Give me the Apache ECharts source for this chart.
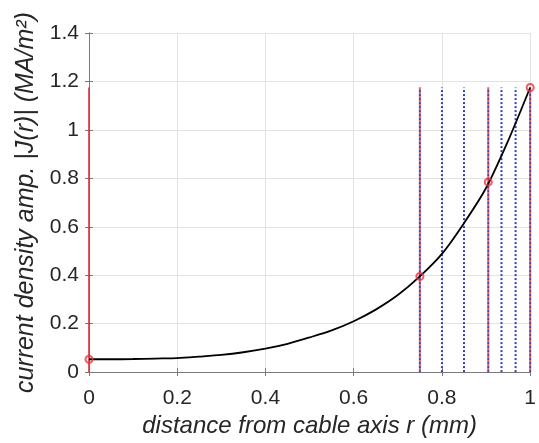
<!DOCTYPE html>
<html>
<head>
<meta charset="utf-8">
<script src="https://cdn.jsdelivr.net/npm/echarts@6/dist/echarts.min.js"></script>
<style>
  html, body { margin: 0; padding: 0; background: #fff; }
  #chart { width: 539px; height: 443px; }
</style>
</head>
<body>
<div id="chart"></div>
<script>
// current density profile
const rValues = [0, 0.05, 0.1, 0.15, 0.2, 0.25, 0.3, 0.35, 0.4, 0.45, 0.5, 0.55, 0.6, 0.65, 0.7, 0.75, 0.8, 0.85, 0.9, 0.95, 1.0]
const jValues = [0.053, 0.053, 0.054, 0.056, 0.058, 0.064, 0.071, 0.082, 0.097, 0.117, 0.143, 0.172, 0.21, 0.258, 0.318, 0.395, 0.488, 0.615, 0.76, 0.955, 1.175]

// red circles
const markR = [0, 0.75, 0.905, 1.0]
const markJ = [0.053, 0.395, 0.785, 1.175]

// vertical mesh lines (blue dotted) and layer boundaries (red dotted)
const meshR = [0.75, 0.8, 0.85, 0.905, 0.935, 0.967, 1.0]
const layerR = [0.75, 0.905, 1.0]
const axisLineR = [0]
const lineTop = 1.175

const xTicks = [0, 0.2, 0.4, 0.6, 0.8, 1]
const yTicks = [0, 0.2, 0.4, 0.6, 0.8, 1, 1.2, 1.4]

const font = 'Liberation Sans'
const textColor = '#262626'
const frameColor = '#7a7a7a'

const vline = (r, color, type, offset, width) => ({
    type: 'line',
    data: [[r, 0], [r, lineTop]],
    symbol: 'none',
    silent: true,
    lineStyle: { color: color, width: width, type: type, dashOffset: offset || 0 },
    z: 2
})

const series = []
meshR.forEach(r => series.push(vline(r, '#2e3fc0', [2, 2], 0, 2)))
layerR.forEach(r => series.push(vline(r, '#f0505a', [2, 2], 2, 2)))
axisLineR.forEach(r => series.push(vline(r, '#dc3038', 'solid', 0, 1.6)))

series.push({
    type: 'line',
    data: rValues.map((r, i) => [r, jValues[i]]),
    smooth: 0.3,
    symbol: 'none',
    lineStyle: { color: '#000', width: 1.8 },
    z: 3
})

series.push({
    type: 'scatter',
    data: markR.map((r, i) => [r, markJ[i]]),
    symbol: 'circle',
    symbolSize: 7,
    itemStyle: { color: 'rgba(0,0,0,0)', borderColor: '#f0303a', borderWidth: 2 },
    z: 4
})

const chart = echarts.init(document.getElementById('chart'))
chart.setOption({
    animation: false,
    backgroundColor: '#fff',
    grid: { left: 89, right: 5, top: 33, bottom: 64 },
    xAxis: [{
        type: 'value',
        min: xTicks[0],
        max: xTicks[xTicks.length - 1],
        interval: 0.2,
        name: 'distance from cable axis r (mm)',
        nameLocation: 'middle',
        nameGap: 38,
        nameTextStyle: { fontFamily: font, fontSize: 24, fontStyle: 'italic', color: textColor },
        axisLine: { lineStyle: { color: frameColor, width: 1 } },
        axisTick: { inside: true, length: 4, lineStyle: { color: frameColor } },
        axisLabel: { margin: 16, fontFamily: font, fontSize: 21, color: textColor },
        splitLine: { show: true, lineStyle: { color: '#e3e3e3', width: 1 } }
    }, {
        type: 'value',
        position: 'top',
        min: xTicks[0],
        max: xTicks[xTicks.length - 1],
        interval: 0.2,
        axisLine: { show: true, lineStyle: { color: frameColor, width: 1 } },
        axisTick: { inside: true, length: 4, lineStyle: { color: frameColor } },
        axisLabel: { show: false },
        splitLine: { show: false }
    }],
    yAxis: [{
        type: 'value',
        min: yTicks[0],
        max: yTicks[yTicks.length - 1],
        interval: 0.2,
        name: 'current density amp. |J(r)| (MA/m²)',
        nameLocation: 'middle',
        nameGap: 47,
        nameTextStyle: { fontFamily: font, fontSize: 25, fontStyle: 'italic', color: textColor },
        axisLine: { show: true, lineStyle: { color: frameColor, width: 1 } },
        axisTick: { show: true, inside: true, length: 4, lineStyle: { color: frameColor } },
        axisLabel: { margin: 10, fontFamily: font, fontSize: 21, color: textColor },
        splitLine: { show: true, lineStyle: { color: '#e3e3e3', width: 1 } }
    }, {
        type: 'value',
        position: 'right',
        min: yTicks[0],
        max: yTicks[yTicks.length - 1],
        interval: 0.2,
        axisLine: { show: true, lineStyle: { color: frameColor, width: 1 } },
        axisTick: { show: true, inside: true, length: 4, lineStyle: { color: frameColor } },
        axisLabel: { show: false },
        splitLine: { show: false }
    }],
    series: series
})
</script>
</body>
</html>
